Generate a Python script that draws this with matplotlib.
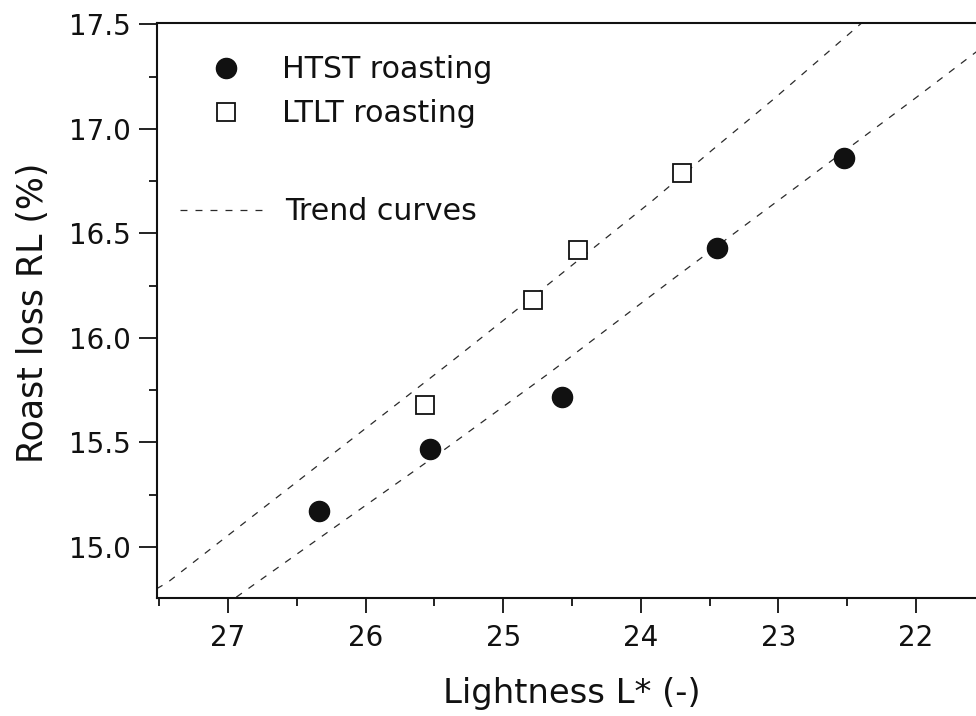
import matplotlib
matplotlib.use("Agg")
import matplotlib.pyplot as plt
from matplotlib.ticker import MultipleLocator, FormatStrFormatter
from matplotlib.lines import Line2D

plt.rcParams['font.family'] = ['DejaVu Sans']
plt.rcParams['lines.scale_dashes'] = False

# ---- data ----
htst_L = [26.34, 25.53, 24.57, 23.45, 22.52]
htst_RL = [15.17, 15.47, 15.72, 16.43, 16.86]

ltlt_L = [25.57, 24.78, 24.46, 23.70]
ltlt_RL = [15.68, 16.18, 16.42, 16.79]

trend_ltlt_L = [27.52, 27.44, 25.39, 24.95, 23.91, 23.48, 23.04, 22.39]
trend_ltlt_RL = [14.80, 14.83, 15.88, 16.11, 16.66, 16.90, 17.14, 17.51]

trend_htst_L = [26.94, 26.32, 25.44, 24.67, 23.75, 22.02, 21.56]
trend_htst_RL = [14.76, 15.05, 15.46, 15.83, 16.29, 17.14, 17.37]

x_label = "Lightness L* (-)"
y_label = "Roast loss RL (%)"
legend_labels = ["HTST roasting", "LTLT roasting", "Trend curves"]

# ---- figure ----
W, H = 976, 716
fig = plt.figure(figsize=(W / 100, H / 100), dpi=100)
left_px, right_px, top_px, bottom_px = 157, 998.6, 23, 598
ax = fig.add_axes([left_px / W, 1 - bottom_px / H,
                   (right_px - left_px) / W, (bottom_px - top_px) / H])

dash = (0, (5.0, 5.8))
line_col = '#2a2a2a'
ax.plot(trend_ltlt_L, trend_ltlt_RL, linestyle=dash, color=line_col, lw=0.9)
ax.plot(trend_htst_L, trend_htst_RL, linestyle=dash, color=line_col, lw=0.9)

ax.plot(htst_L, htst_RL, linestyle='none', marker='o', markersize=14.5,
        color='#111111', markeredgecolor='#111111')
ax.plot(ltlt_L, ltlt_RL, linestyle='none', marker='s', markersize=12.5,
        markerfacecolor='white', markeredgecolor='#111111', markeredgewidth=1.3)

ax.set_xlim(27.516, 21.4)
ax.set_ylim(14.756, 17.507)

ax.xaxis.set_major_locator(MultipleLocator(1))
ax.xaxis.set_minor_locator(MultipleLocator(0.5))
ax.yaxis.set_major_locator(MultipleLocator(0.5))
ax.yaxis.set_minor_locator(MultipleLocator(0.25))
ax.yaxis.set_major_formatter(FormatStrFormatter('%.1f'))
ax.xaxis.set_major_formatter(FormatStrFormatter('%d'))

for s in ['left', 'bottom', 'top']:
    ax.spines[s].set_linewidth(1.5)
    ax.spines[s].set_color('#111111')
ax.spines['right'].set_visible(False)

ax.tick_params(axis='both', which='both', direction='out', top=False, right=False,
               color='#111111', labelcolor='#111111')
ax.tick_params(axis='x', which='major', length=11, width=1.3, pad=8, labelsize=20)
ax.tick_params(axis='x', which='minor', length=6, width=1.3)
ax.tick_params(axis='y', which='major', length=13, width=1.3, pad=6, labelsize=20)
ax.tick_params(axis='y', which='minor', length=6, width=1.3)

ax.set_xlabel(x_label, fontsize=24.4, color='#111111')
ax.xaxis.set_label_coords((572 - left_px) / (right_px - left_px), -0.137)
ax.set_ylabel(y_label, fontsize=25, color='#111111')
ax.yaxis.set_label_coords((50 - left_px) / (right_px - left_px), 0.496)

# legends
h1 = Line2D([], [], linestyle='none', marker='o', markersize=14.5,
            color='#111111')
h2 = Line2D([], [], linestyle='none', marker='s', markersize=12.5,
            markerfacecolor='white', markeredgecolor='#111111', markeredgewidth=1.3)
leg1 = ax.legend([h1, h2], legend_labels[:2], loc='center left',
                 bbox_to_anchor=((208 - left_px) / (right_px - left_px),
                                 (bottom_px - 92) / (bottom_px - top_px)),
                 frameon=False, borderpad=0, borderaxespad=0, fontsize=21.6,
                 handlelength=1.2, handletextpad=1.27, labelspacing=0.5,
                 labelcolor='#111111')
ax.add_artist(leg1)
h3 = Line2D([], [], linestyle=dash, color=line_col, lw=0.9)
ax.legend([h3], legend_labels[2:], loc='center left',
          bbox_to_anchor=((180 - left_px) / (right_px - left_px),
                          (bottom_px - 212) / (bottom_px - top_px)),
          frameon=False, borderpad=0, borderaxespad=0, fontsize=21.6,
          handlelength=2.77, handletextpad=0.73, labelcolor='#111111')

fig.savefig('out.png', dpi=100)
